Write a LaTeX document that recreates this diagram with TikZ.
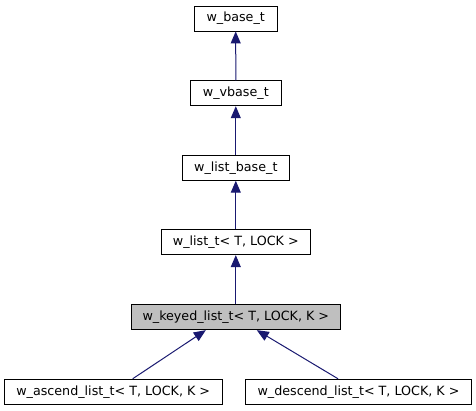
\documentclass[tikz,border=0pt]{standalone}
\usepackage{fontspec}
\setmainfont{DejaVu Sans}
\usetikzlibrary{arrows.meta}
\definecolor{edgeblue}{HTML}{191970}
\definecolor{hlgray}{HTML}{BFBFBF}
\tikzset{
  cls/.style={draw=black, line width=0.9pt, fill=white, inner sep=0pt, minimum height=25pt,
    font=\fontsize{12.7}{14}\selectfont, anchor=center},
  cur/.style={cls, fill=hlgray},
  inh/.style={draw=edgeblue, line width=1pt, -{Triangle[length=12pt,width=10pt,fill=edgeblue]}}
}
\begin{document}
\begin{tikzpicture}[x=1pt,y=-1pt]
\useasboundingbox (0,0) rectangle (476,411);
\node[cls, minimum width=83pt] (base) at (235.7,18.5) {w\_base\_t};
\node[cls, minimum width=91pt] (vbase) at (235.8,93.3) {w\_vbase\_t};
\node[cls, minimum width=107pt] (lbase) at (235.8,167.8) {w\_list\_base\_t};
\node[cls, minimum width=148.3pt] (list) at (235.8,242.2) {w\_list\_t< T, LOCK >};
\node[cur, minimum width=209.7pt] (keyed) at (235.8,317.2) {w\_keyed\_list\_t< T, LOCK, K >};
\node[cls, minimum width=217.7pt] (asc) at (113.2,391.7) {w\_ascend\_list\_t< T, LOCK, K >};
\node[cls, minimum width=225.6pt] (desc) at (358.5,391.7) {w\_descend\_list\_t< T, LOCK, K >};
\draw[inh] (vbase.north) -- (base.south);
\draw[inh] (lbase.north) -- (vbase.south);
\draw[inh] (list.north) -- (lbase.south);
\draw[inh] (keyed.north) -- (list.south);
\draw[inh] ([xshift=19.5pt]asc.north) -- ([xshift=-30pt]keyed.south);
\draw[inh] ([xshift=-20.5pt]desc.north) -- ([xshift=21pt]keyed.south);
\end{tikzpicture}
\end{document}
